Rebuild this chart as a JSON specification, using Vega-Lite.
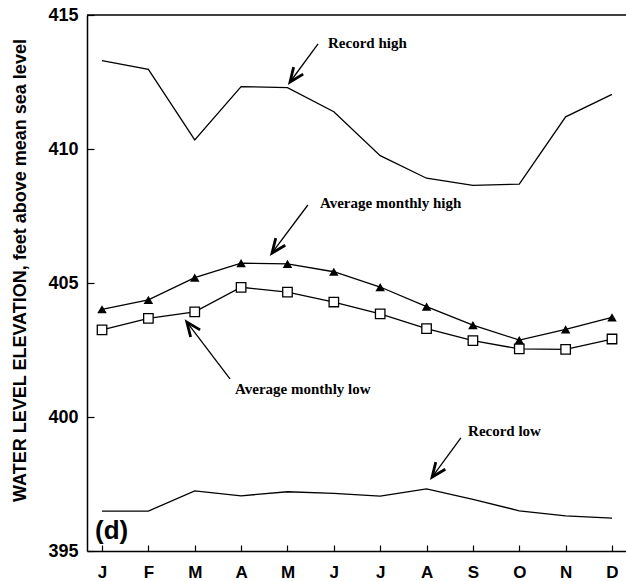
{
  "$schema": "https://vega.github.io/schema/vega-lite/v6.json",
  "width": 539,
  "height": 536,
  "autosize": {"type": "none"},
  "padding": {"left": 87, "top": 15, "right": 0, "bottom": 30},
  "background": "white",
  "config": {"view": {"stroke": null}},
  "datasets": {
    "levels": [
      {"month": 1, "series": "Record high", "value": 413.3},
      {"month": 2, "series": "Record high", "value": 412.97},
      {"month": 3, "series": "Record high", "value": 410.34},
      {"month": 4, "series": "Record high", "value": 412.33},
      {"month": 5, "series": "Record high", "value": 412.29},
      {"month": 6, "series": "Record high", "value": 411.39},
      {"month": 7, "series": "Record high", "value": 409.75},
      {"month": 8, "series": "Record high", "value": 408.91},
      {"month": 9, "series": "Record high", "value": 408.64},
      {"month": 10, "series": "Record high", "value": 408.69},
      {"month": 11, "series": "Record high", "value": 411.2},
      {"month": 12, "series": "Record high", "value": 412.04},
      {"month": 1, "series": "Average monthly high", "value": 404.02},
      {"month": 2, "series": "Average monthly high", "value": 404.37},
      {"month": 3, "series": "Average monthly high", "value": 405.2},
      {"month": 4, "series": "Average monthly high", "value": 405.74},
      {"month": 5, "series": "Average monthly high", "value": 405.71},
      {"month": 6, "series": "Average monthly high", "value": 405.42},
      {"month": 7, "series": "Average monthly high", "value": 404.85},
      {"month": 8, "series": "Average monthly high", "value": 404.12},
      {"month": 9, "series": "Average monthly high", "value": 403.43},
      {"month": 10, "series": "Average monthly high", "value": 402.87},
      {"month": 11, "series": "Average monthly high", "value": 403.27},
      {"month": 12, "series": "Average monthly high", "value": 403.72},
      {"month": 1, "series": "Average monthly low", "value": 403.25},
      {"month": 2, "series": "Average monthly low", "value": 403.68},
      {"month": 3, "series": "Average monthly low", "value": 403.92},
      {"month": 4, "series": "Average monthly low", "value": 404.84},
      {"month": 5, "series": "Average monthly low", "value": 404.66},
      {"month": 6, "series": "Average monthly low", "value": 404.29},
      {"month": 7, "series": "Average monthly low", "value": 403.85},
      {"month": 8, "series": "Average monthly low", "value": 403.3},
      {"month": 9, "series": "Average monthly low", "value": 402.85},
      {"month": 10, "series": "Average monthly low", "value": 402.54},
      {"month": 11, "series": "Average monthly low", "value": 402.52},
      {"month": 12, "series": "Average monthly low", "value": 402.91},
      {"month": 1, "series": "Record low", "value": 396.49},
      {"month": 2, "series": "Record low", "value": 396.49},
      {"month": 3, "series": "Record low", "value": 397.24},
      {"month": 4, "series": "Record low", "value": 397.06},
      {"month": 5, "series": "Record low", "value": 397.21},
      {"month": 6, "series": "Record low", "value": 397.15},
      {"month": 7, "series": "Record low", "value": 397.05},
      {"month": 8, "series": "Record low", "value": 397.32},
      {"month": 9, "series": "Record low", "value": 396.93},
      {"month": 10, "series": "Record low", "value": 396.5},
      {"month": 11, "series": "Record low", "value": 396.31},
      {"month": 12, "series": "Record low", "value": 396.23}
    ],
    "notes": [
      {"label": "Record high", "lx": 5.875, "ly": 413.96, "tx": 5.66, "ty": 413.92, "hx": 5.055, "hy": 412.5, "angle": 216.4},
      {"label": "Average monthly high", "lx": 5.70, "ly": 407.99, "tx": 5.44, "ty": 407.91, "hx": 4.667, "hy": 406.12, "angle": 216.9},
      {"label": "Average monthly low", "lx": 3.87, "ly": 401.04, "tx": 3.76, "ty": 401.42, "hx": 2.83, "hy": 403.54, "angle": 323},
      {"label": "Record low", "lx": 8.895, "ly": 399.48, "tx": 8.74, "ty": 399.22, "hx": 8.12, "hy": 397.76, "angle": 216.6}
    ],
    "panel": [{"label": "(d)", "x": 0.85, "y": 395.76}]
  },
  "layer": [
    {
      "data": {"name": "levels"},
      "mark": {"type": "line", "color": "black", "strokeWidth": 1.3},
      "encoding": {
        "x": {
          "field": "month", "type": "quantitative",
          "scale": {"domain": [0.676, 12.302], "nice": false, "zero": false},
          "axis": {
            "values": [1,2,3,4,5,6,7,8,9,10,11,12],
            "labelExpr": "['J','F','M','A','M','J','J','A','S','O','N','D'][datum.value-1]",
            "title": null, "grid": false,
            "domainColor": "black", "domainWidth": 1.5,
            "tickColor": "black", "tickSize": -6, "tickWidth": 1.2,
            "labelFont": "Liberation Sans", "labelFontWeight": "bold", "labelFontSize": 17,
            "labelColor": "black", "labelPadding": 19, "labelFlush": false
          }
        },
        "y": {
          "field": "value", "type": "quantitative",
          "scale": {"domain": [395, 415], "nice": false, "zero": false},
          "axis": {
            "values": [395, 400, 405, 410, 415],
            "title": "WATER LEVEL ELEVATION, feet above mean sea level",
            "titleFont": "Liberation Sans", "titleFontSize": 18, "titleFontWeight": "bold",
            "titleColor": "black", "titleX": -67, "titleY": 255, "titleAngle": -90,
            "titleAlign": "center", "titleBaseline": "middle",
            "grid": false, "domainColor": "black", "domainWidth": 1.5,
            "tickColor": "black", "tickSize": -7, "tickWidth": 1.2,
            "labelFont": "Liberation Sans", "labelFontWeight": "bold", "labelFontSize": 18,
            "labelColor": "black", "labelPadding": 16, "labelFlush": false
          }
        },
        "detail": {"field": "series"}
      }
    },
    {
      "data": {"name": "levels"},
      "transform": [{"filter": "datum.series == 'Average monthly high'"}],
      "mark": {"type": "point", "shape": "triangle-up", "filled": true, "color": "black", "size": 90, "opacity": 1},
      "encoding": {
        "x": {"field": "month", "type": "quantitative"},
        "y": {"field": "value", "type": "quantitative"}
      }
    },
    {
      "data": {"name": "levels"},
      "transform": [{"filter": "datum.series == 'Average monthly low'"}],
      "mark": {"type": "point", "shape": "square", "filled": true, "fill": "white", "stroke": "black", "strokeWidth": 1.3, "size": 90, "opacity": 1},
      "encoding": {
        "x": {"field": "month", "type": "quantitative"},
        "y": {"field": "value", "type": "quantitative"}
      }
    },
    {
      "data": {"name": "notes"},
      "mark": {"type": "rule", "color": "black", "strokeWidth": 1.3},
      "encoding": {
        "x": {"field": "tx", "type": "quantitative"},
        "y": {"field": "ty", "type": "quantitative"},
        "x2": {"field": "hx"},
        "y2": {"field": "hy"}
      }
    },
    {
      "data": {"name": "notes"},
      "mark": {"type": "point", "shape": "M -0.42 1 L 0 0 L 0.42 1", "filled": false, "stroke": "black", "strokeWidth": 2.8, "size": 800, "opacity": 1},
      "encoding": {
        "x": {"field": "hx", "type": "quantitative"},
        "y": {"field": "hy", "type": "quantitative"},
        "angle": {"field": "angle", "type": "quantitative", "scale": null}
      }
    },
    {
      "data": {"name": "notes"},
      "mark": {"type": "text", "align": "left", "baseline": "middle", "font": "Liberation Serif", "fontWeight": "bold", "fontSize": 15, "color": "black"},
      "encoding": {
        "x": {"field": "lx", "type": "quantitative"},
        "y": {"field": "ly", "type": "quantitative"},
        "text": {"field": "label"}
      }
    },
    {
      "data": {"name": "panel"},
      "mark": {"type": "text", "align": "left", "baseline": "middle", "font": "Liberation Sans", "fontWeight": "bold", "fontSize": 26, "color": "black"},
      "encoding": {
        "x": {"field": "x", "type": "quantitative"},
        "y": {"field": "y", "type": "quantitative"},
        "text": {"field": "label"}
      }
    },
    {
      "data": {"name": "panel"},
      "mark": {"type": "rule", "color": "black", "strokeWidth": 1.5},
      "encoding": {
        "y": {"datum": 415, "type": "quantitative"}
      }
    }
  ]
}
